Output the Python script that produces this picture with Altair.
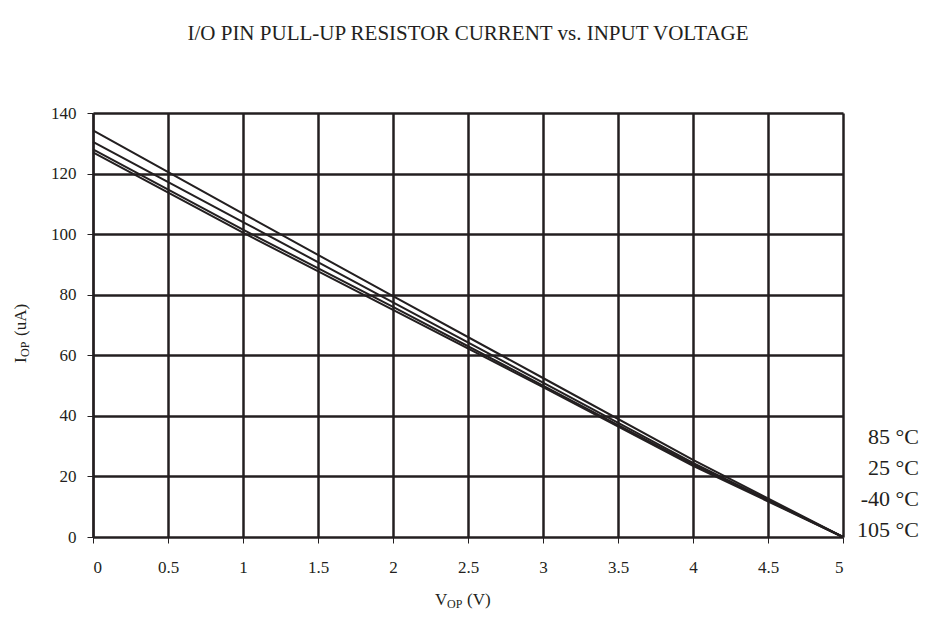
import altair as alt
import pandas as pd

# ---- data ----
voltage = [0, 1, 2, 3, 4, 5]
i_85 = [134.3, 106.8, 79.5, 52.5, 25.5, 0]
i_25 = [130.5, 104.0, 77.5, 51.0, 24.5, 0]
i_m40 = [128.0, 101.5, 76.0, 50.0, 24.0, 0]
i_105 = [127.0, 100.5, 75.0, 49.5, 23.5, 0]
series = ["85 °C", "25 °C", "-40 °C", "105 °C"]
x_ticks = [0, 0.5, 1, 1.5, 2, 2.5, 3, 3.5, 4, 4.5, 5]
y_ticks = [0, 20, 40, 60, 80, 100, 120, 140]
title_text = "I/O PIN PULL-UP RESISTOR CURRENT vs. INPUT VOLTAGE"

rows = []
for name, vals in zip(series, [i_85, i_25, i_m40, i_105]):
    for v, c in zip(voltage, vals):
        rows.append({"series": name, "V": v, "I": c})
df = pd.DataFrame(rows)

FONT = "Liberation Serif"
INK = "#231f20"
W, H = 750, 424

lines = alt.Chart(df).mark_line(strokeWidth=2).encode(
    x=alt.X("V:Q", scale=alt.Scale(domain=[0, 5], nice=False, zero=False),
            axis=alt.Axis(values=x_ticks, labelExpr="toString(datum.value)", title=None,
                          grid=True, gridColor=INK, gridWidth=2.5, gridOpacity=1,
                          domain=False, tickColor=INK, tickSize=6, tickWidth=1,
                          labelFont=FONT, labelFontSize=17, labelColor=INK, labelPadding=16)),
    y=alt.Y("I:Q", scale=alt.Scale(domain=[0, 140], nice=False),
            axis=alt.Axis(values=y_ticks, labelExpr="toString(datum.value)", title=None,
                          grid=True, gridColor=INK, gridWidth=2.5, gridOpacity=1,
                          domain=True, domainColor=INK, domainWidth=2,
                          tickColor=INK, tickSize=6, tickWidth=1,
                          labelFont=FONT, labelFontSize=17, labelColor=INK, labelPadding=11)),
    color=alt.Color("series:N", scale=alt.Scale(domain=series, range=[INK] * 4),
                    legend=alt.Legend(orient="none", legendX=804, legendY=313,
                                      title=None, symbolSize=0, symbolOpacity=0,
                                      symbolStrokeWidth=0, labelAlign="right", labelOffset=0,
                                      labelFont=FONT, labelFontSize=22, labelColor=INK,
                                      rowPadding=9, padding=0, labelLimit=200)),
)

one = pd.DataFrame({"k": [0]})


def txt(t, x, y, size, angle=0):
    return alt.Chart(one).mark_text(font=FONT, fontSize=size, color=INK, align="left",
                                    baseline="alphabetic", angle=angle).encode(
        x=alt.value(x), y=alt.value(y), text=alt.value(t))


ytitle = (txt("I", -67, 250, 17, 270) + txt("OP", -64, 244, 12, 270)
          + txt("(uA)", -67, 223, 17, 270))
xtitle = (txt("V", 342, 492, 17) + txt("OP", 354, 495, 12) + txt("(V)", 374, 492, 17))

chart = (lines + ytitle + xtitle).properties(
    width=W, height=H,
    title=alt.TitleParams(title_text, font=FONT, fontSize=21, fontWeight="normal",
                          color=INK, anchor="middle", offset=60),
    autosize=alt.AutoSizeParams(type="none"),
    padding={"left": 85, "top": 105, "right": 80, "bottom": 73},
).configure_view(stroke="#9a9a9a", strokeWidth=2.5).configure(background="white")

chart.save("out.html", embed_options={"renderer": "svg", "actions": False})
